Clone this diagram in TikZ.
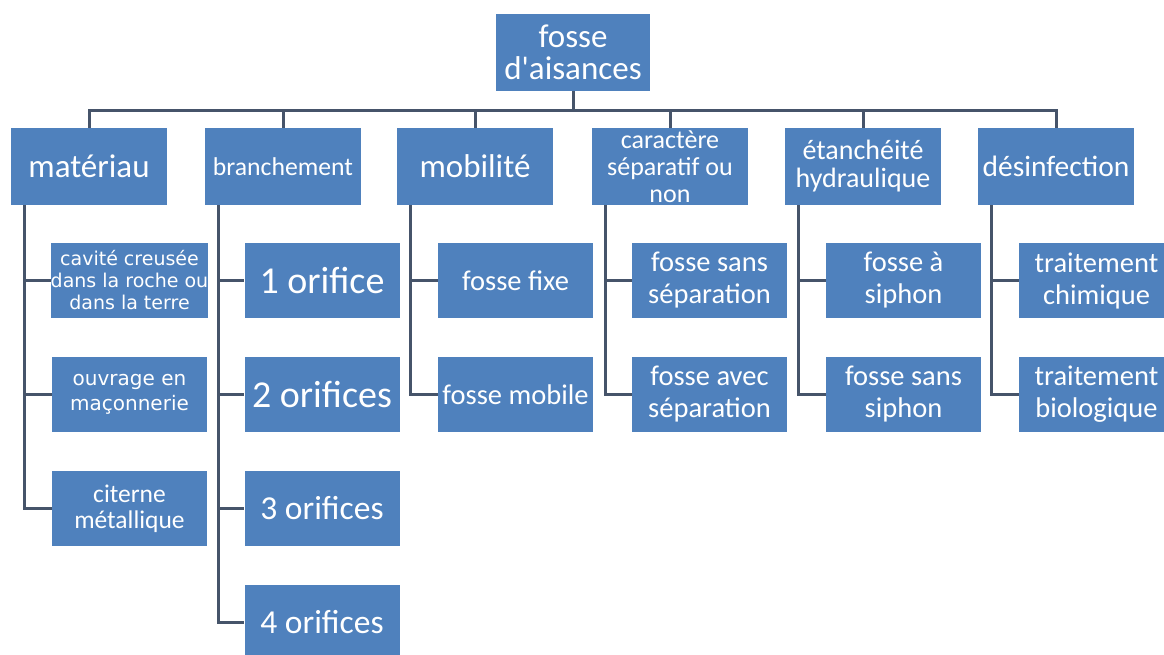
\documentclass[tikz,border=0pt]{standalone}
\usepackage{fontspec}
\setmainfont{Carlito}
\newfontfamily\widefont{DejaVu Sans}
\definecolor{boxblue}{RGB}{79,129,189}
\definecolor{linkgray}{RGB}{70,84,106}
\tikzset{
  box/.style={fill=boxblue,text=white,inner sep=0pt,align=center,
    minimum width=156pt,minimum height=77pt},
  leaf/.style={box,minimum width=155pt,minimum height=75pt},
  link/.style={draw=linkgray,line width=3pt}
}

\begin{document}
\begin{tikzpicture}[x=1pt,y=-1pt]

  \path[use as bounding box,fill=white] (0,0) rectangle (1164,654);

  \node[box,minimum width=154pt,font=\fontsize{33}{32}\selectfont] (root) at (573,52.5) {fosse\\d\textquotesingle aisances};

  \node[box,font=\fontsize{33}{36}\selectfont] (mat) at (89,166.5) {matériau};
  \node[box,font=\fontsize{25.7}{28}\selectfont] (bra) at (283,166.5) {branchement};
  \node[box,font=\fontsize{33}{36}\selectfont] (mob) at (475,166.5) {mobilité};
  \node[box,font=\fontsize{26}{27}\selectfont] (car) at (670,166.5) {caractère\\séparatif ou\\non};
  \node[box,font=\fontsize{28}{28}\selectfont] (eta) at (863,166.5) {étanchéité\\hydraulique};
  \node[box,font=\fontsize{29.5}{32}\selectfont] (desi) at (1056,166.5) {désinfection};

  \node[leaf,font=\widefont\fontsize{19}{22}\selectfont] (mat1) at (129.5,280.5) {cavité creusée\\dans la roche ou\\dans la terre};
  \node[leaf,font=\widefont\fontsize{20}{25}\selectfont] (mat2) at (129.5,394.5) {ouvrage en\\maçonnerie};
  \node[leaf,font=\fontsize{25.5}{26}\selectfont] (mat3) at (129.5,508.5) {citerne\\métallique};

  \node[leaf,font=\fontsize{38}{40}\selectfont] (bra1) at (322,280.5) {1 orifice};
  \node[leaf,font=\fontsize{38}{40}\selectfont] (bra2) at (322,394.5) {2 orifices};
  \node[leaf,font=\fontsize{33.5}{36}\selectfont] (bra3) at (322,508.5) {3 orifices};
  \node[leaf,font=\fontsize{33.5}{36}\selectfont] (bra4) at (322,622.5) {4 orifices};

  \node[leaf,font=\fontsize{28.5}{32}\selectfont] (mob1) at (515.5,280.5) {fosse fixe};
  \node[leaf,font=\fontsize{28.5}{32}\selectfont] (mob2) at (515.5,394.5) {fosse mobile};

  \node[leaf,font=\fontsize{28.5}{32}\selectfont] (car1) at (709.5,280.5) {fosse sans\\séparation};
  \node[leaf,font=\fontsize{28.5}{32}\selectfont] (car2) at (709.5,394.5) {fosse avec\\séparation};

  \node[leaf,font=\fontsize{28.5}{32}\selectfont] (eta1) at (903.5,280.5) {fosse à\\siphon};
  \node[leaf,font=\fontsize{28.5}{32}\selectfont] (eta2) at (903.5,394.5) {fosse sans\\siphon};

  \node[leaf,font=\fontsize{28.5}{32}\selectfont] (desi1) at (1096.5,280.5) {traitement\\chimique};
  \node[leaf,font=\fontsize{28.5}{32}\selectfont] (desi2) at (1096.5,394.5) {traitement\\biologique};

  \coordinate (bus) at (573,110);
  \draw[link] (root.south) -- (bus);
  \draw[link] (mat.north) -- (bus -| mat) -- (bus -| desi) -- (desi.north);
  \foreach \n in {bra,mob,car,eta}
    \draw[link] (bus -| \n) -- (\n.north);

  \foreach \p/\c in {mat/mat1,mat/mat2,mat/mat3,bra/bra1,bra/bra2,bra/bra3,bra/bra4,
                     mob/mob1,mob/mob2,car/car1,car/car2,eta/eta1,eta/eta2,desi/desi1,desi/desi2}
    \draw[link] (\p.south west) ++(14,0) |- (\c.west);

\end{tikzpicture}
\end{document}
